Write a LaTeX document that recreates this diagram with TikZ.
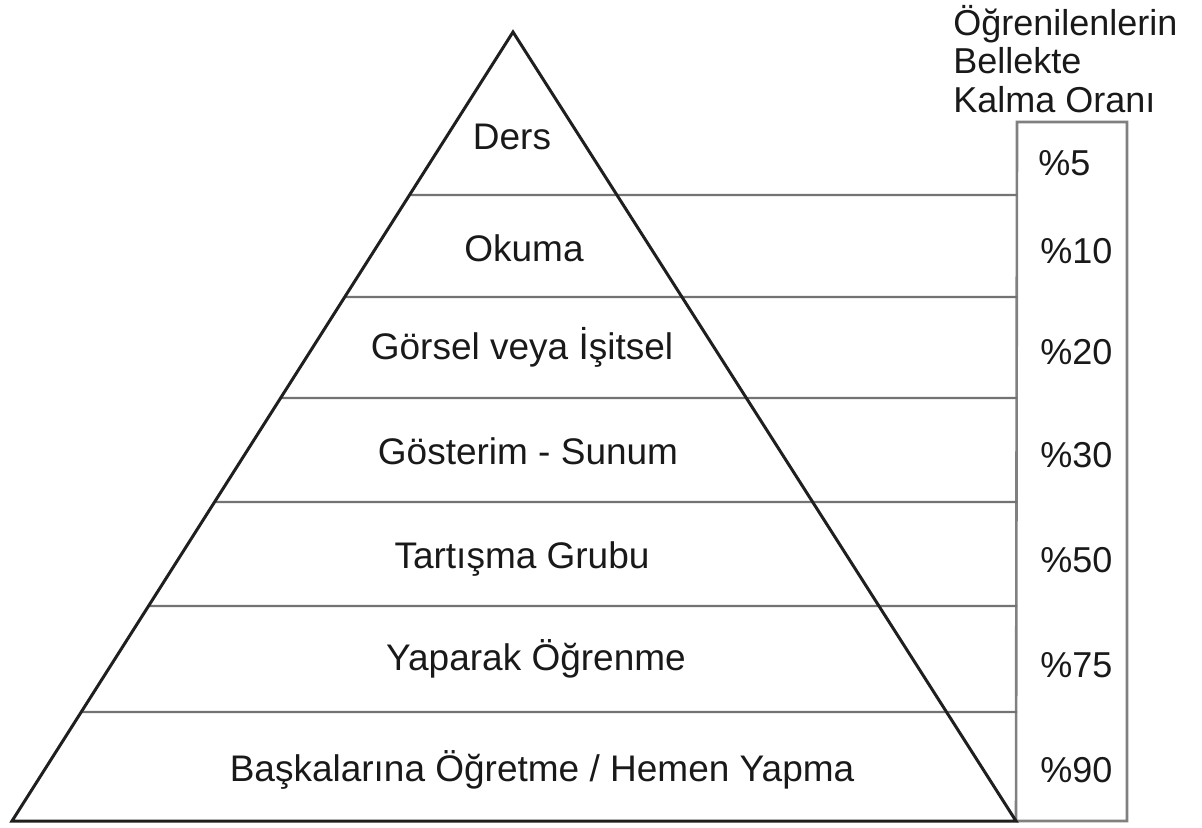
\documentclass[tikz,border=0pt]{standalone}
\usepackage{fontspec}
\setmainfont{Liberation Sans}
\usetikzlibrary{calc}
\begin{document}
\begin{tikzpicture}[x=0.5pt,y=-0.5pt,
  edge/.style={line width=1.5pt, draw=black!88, line join=miter},
  rule/.style={line width=1.2pt, draw=black!55},
  boxline/.style={line width=1.3pt, draw=black!50},
  lbl/.style={font=\fontsize{18.5}{22}\selectfont, inner sep=0pt, text=black!90, anchor=base},
  pct/.style={font=\fontsize{18}{22}\selectfont, inner sep=0pt, text=black!90, anchor=base west},
  head/.style={font=\fontsize{18}{19.25}\selectfont, inner sep=0pt, text=black!90, anchor=base west}]
\useasboundingbox (0,0) rectangle (1202,827);
% geometry
\coordinate (apex) at (513,32);
\coordinate (bl) at (12,821);
\coordinate (br) at (1016,821);
\coordinate (btl) at (1017,122);
\coordinate (btr) at (1127,122);
\coordinate (bbr) at (1127,821);
% box
\draw[boxline] (br) -- (btl) -- (btr) -- (bbr) -- (br);
% band separators
\foreach \yy [count=\i] in {195,297,398,502,606,712} {
  \coordinate (L\i) at ($(apex)!{(\yy-32)/789}!(bl)$);
  \coordinate (R\i) at (1017,\yy);
  \draw[rule] (L\i) -- (R\i);
}
% pyramid
\draw[edge] (apex) -- (bl) -- (br) -- cycle;
% header
\node[head] (hdr1) at (953,35) {Öğrenilenlerin};
\node[head] (hdr2) at (953,73) {Bellekte};
\node[head] (hdr3) at (953,112) {Kalma Oranı};
% level labels
\node[lbl] (l1) at (512,149) {Ders};
\node[lbl] (l2) at (524,261) {Okuma};
\node[lbl] (l3) at (522,359) {Görsel veya İşitsel};
\node[lbl] (l4) at (528,464) {Gösterim - Sunum};
\node[lbl] (l5) at (522,568) {Tartışma Grubu};
\node[lbl] (l6) at (536,670) {Yaparak Öğrenme};
\node[lbl] (l7) at (542,781) {Başkalarına Öğretme / Hemen Yapma};
% percentages
\node[pct] (p1) at (1038,175) {\%5};
\node[pct] (p2) at (1040,263) {\%10};
\node[pct] (p3) at (1040,364) {\%20};
\node[pct] (p4) at (1040,467) {\%30};
\node[pct] (p5) at (1040,572) {\%50};
\node[pct] (p6) at (1040,677) {\%75};
\node[pct] (p7) at (1040,782) {\%90};
\end{tikzpicture}
\end{document}
